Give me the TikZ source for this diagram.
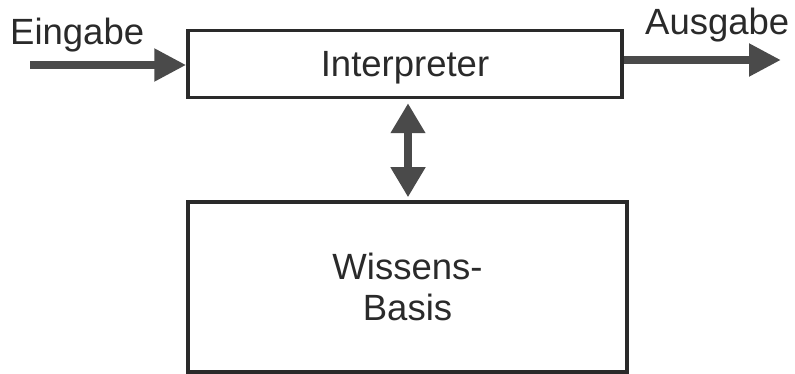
\documentclass[tikz,border=0pt]{standalone}
\usepackage{fontspec}
\setmainfont{Liberation Sans}
\usetikzlibrary{arrows.meta}
\definecolor{ink}{HTML}{2A2A2A}
\definecolor{arrowgrey}{HTML}{4A4A4A}
\begin{document}
\begin{tikzpicture}[x=1pt,y=-1pt,
  box/.style={draw=ink, line width=3.5pt, fill=white, inner sep=0pt, font=\fontsize{36.5}{41}\selectfont, text=ink, align=center},
  lbl/.style={font=\fontsize{36.5}{41}\selectfont, text=ink, inner sep=0pt},
  fatarrow/.style={draw=arrowgrey, line width=8pt, -{Triangle[length=32pt,width=31pt]}},
  dblarrow/.style={draw=arrowgrey, line width=8pt, {Triangle[length=30pt,width=33pt]}-{Triangle[length=30pt,width=33pt]}, shorten <=4pt, shorten >=3pt}
]
\useasboundingbox (0,0) rectangle (795,374);
\node[box, minimum width=434pt, minimum height=67pt, text depth=0pt] (interp) at (405,64) {Interpreter};
\node[box, minimum width=439pt, minimum height=170pt] (wb) at (407.5,287) {Wissens-\\Basis};
\node[lbl, anchor=base west] (ein) at (10,45) {Eingabe};
\node[lbl, anchor=base west] (aus) at (645,35) {Ausgabe};
\coordinate (inStart) at (30,65);
\coordinate (outEnd) at (781,60);
\coordinate (linkx) at (408,0);
\draw[fatarrow] (inStart) -- (inStart -| interp.west);
\draw[fatarrow] (outEnd -| interp.east) -- (outEnd);
\draw[dblarrow] (interp.south -| linkx) -- (wb.north -| linkx);
\end{tikzpicture}
\end{document}
